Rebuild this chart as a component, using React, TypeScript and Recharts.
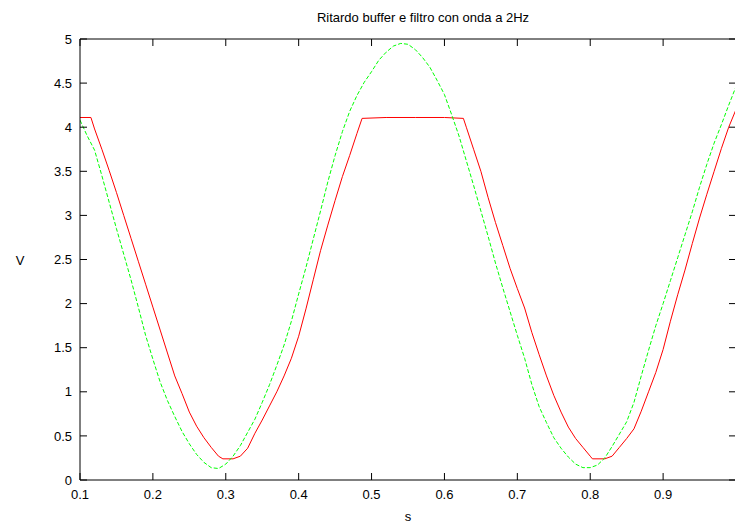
import React from "react";
import { LineChart, Line, XAxis, YAxis } from "recharts";

const greenT = [
  0.10, 0.11, 0.12, 0.13, 0.14, 0.15, 0.16, 0.17, 0.18, 0.19,
  0.20, 0.21, 0.22, 0.23, 0.24, 0.25, 0.26, 0.27, 0.28, 0.29,
  0.30, 0.31, 0.32, 0.33, 0.34, 0.35, 0.36, 0.37, 0.38, 0.39,
  0.40, 0.41, 0.42, 0.43, 0.44, 0.45, 0.46, 0.47, 0.48, 0.49,
  0.50, 0.51, 0.52, 0.53, 0.54, 0.55, 0.56, 0.57, 0.58, 0.59,
  0.60, 0.61, 0.62, 0.63, 0.64, 0.65, 0.66, 0.67, 0.68, 0.69,
  0.70, 0.71, 0.72, 0.73, 0.74, 0.75, 0.76, 0.77, 0.78, 0.79,
  0.80, 0.81, 0.82, 0.83, 0.84, 0.85, 0.86, 0.87, 0.88, 0.89,
  0.90, 0.91, 0.92, 0.93, 0.94, 0.95, 0.96, 0.97, 0.98, 0.99, 1.00,
];
const greenV = [
  4.08, 3.90, 3.74, 3.45, 3.15, 2.85, 2.56, 2.27, 1.96, 1.64,
  1.37, 1.11, 0.90, 0.72, 0.55, 0.41, 0.29, 0.20, 0.14, 0.13,
  0.18, 0.27, 0.39, 0.54, 0.69, 0.88, 1.08, 1.30, 1.53, 1.80,
  2.11, 2.41, 2.73, 3.05, 3.38, 3.68, 3.95, 4.18, 4.36, 4.51,
  4.63, 4.76, 4.85, 4.92, 4.95, 4.94, 4.88, 4.79, 4.68, 4.53,
  4.37, 4.14, 3.90, 3.62, 3.34, 3.05, 2.76, 2.46, 2.18, 1.91,
  1.64, 1.38, 1.08, 0.83, 0.65, 0.48, 0.36, 0.26, 0.18, 0.14,
  0.14, 0.17, 0.25, 0.38, 0.52, 0.66, 0.88, 1.18, 1.47, 1.75,
  2.00, 2.26, 2.52, 2.78, 3.04, 3.32, 3.58, 3.82, 4.03, 4.25, 4.46,
];

const redT = [
  0.10, 0.115, 0.12, 0.13, 0.14, 0.15, 0.16, 0.17, 0.18, 0.19,
  0.20, 0.21, 0.22, 0.23, 0.24, 0.25, 0.26, 0.27, 0.28, 0.29,
  0.296, 0.31, 0.32, 0.33, 0.34, 0.35, 0.36, 0.37, 0.38, 0.39,
  0.40, 0.41, 0.42, 0.43, 0.44, 0.45, 0.46, 0.47, 0.48, 0.487,
  0.52, 0.56, 0.60, 0.626, 0.63, 0.64, 0.65, 0.66, 0.67, 0.68,
  0.69, 0.70, 0.71, 0.72, 0.73, 0.74, 0.75, 0.76, 0.77, 0.78,
  0.79, 0.80, 0.803, 0.82, 0.83, 0.84, 0.85, 0.86, 0.87, 0.88,
  0.89, 0.90, 0.91, 0.92, 0.93, 0.94, 0.95, 0.96, 0.97, 0.98,
  0.99, 1.00,
];
const redV = [
  4.11, 4.11, 3.98, 3.75, 3.51, 3.26, 3.00, 2.74, 2.48, 2.22,
  1.96, 1.70, 1.44, 1.18, 0.98, 0.77, 0.61, 0.48, 0.37, 0.27,
  0.24, 0.24, 0.27, 0.36, 0.53, 0.68, 0.84, 1.00, 1.18, 1.38,
  1.63, 1.94, 2.27, 2.60, 2.89, 3.17, 3.44, 3.68, 3.93, 4.10,
  4.11, 4.11, 4.11, 4.10, 4.00, 3.75, 3.50, 3.20, 2.92, 2.66,
  2.40, 2.17, 1.95, 1.67, 1.42, 1.18, 0.96, 0.77, 0.60, 0.47,
  0.37, 0.27, 0.24, 0.24, 0.27, 0.37, 0.47, 0.58, 0.78, 1.00,
  1.22, 1.48, 1.80, 2.10, 2.38, 2.68, 2.97, 3.24, 3.50, 3.76,
  4.00, 4.20,
];

const xTicks = [0.1, 0.2, 0.3, 0.4, 0.5, 0.6, 0.7, 0.8, 0.9];
const yTicks = [0, 0.5, 1, 1.5, 2, 2.5, 3, 3.5, 4, 4.5, 5];
const xTickLabels = ["0.1", "0.2", "0.3", "0.4", "0.5", "0.6", "0.7", "0.8", "0.9"];
const yTickLabels = ["0", "0.5", "1", "1.5", "2", "2.5", "3", "3.5", "4", "4.5", "5"];

const title = "Ritardo buffer e filtro con onda a 2Hz";
const xLabel = "s";
const yLabel = "V";

const greenData = greenT.map((t, i) => ({ t, v: greenV[i] }));
const redData = redT.map((t, i) => ({ t, v: redV[i] }));

const FONT = "'Liberation Sans', Arial, Helvetica, sans-serif";
const TICK_LEN = 7;

const BottomTick = (props: any) => {
  const { x, y, payload } = props;
  const idx = xTicks.indexOf(payload.value);
  return (
    <g>
      <line x1={x} y1={y} x2={x} y2={y - TICK_LEN} stroke="#000" strokeWidth={1} />
      <text x={x} y={y + 19} textAnchor="middle" fontSize={13} fontFamily={FONT} fill="#000">
        {idx >= 0 ? xTickLabels[idx] : String(payload.value)}
      </text>
    </g>
  );
};

const TopTick = (props: any) => {
  const { x, y } = props;
  return <line x1={x} y1={y} x2={x} y2={y + TICK_LEN} stroke="#000" strokeWidth={1} />;
};

const LeftTick = (props: any) => {
  const { x, y, payload } = props;
  const idx = yTicks.indexOf(payload.value);
  return (
    <g>
      <line x1={x} y1={y} x2={x + TICK_LEN} y2={y} stroke="#000" strokeWidth={1} />
      <text x={x - 8} y={y + 4.6} textAnchor="end" fontSize={13} fontFamily={FONT} fill="#000">
        {idx >= 0 ? yTickLabels[idx] : String(payload.value)}
      </text>
    </g>
  );
};

const RightTick = (props: any) => {
  const { x, y } = props;
  return <line x1={x} y1={y} x2={x - TICK_LEN} y2={y} stroke="#000" strokeWidth={1} />;
};

export default function App() {
  return (
    <div
      style={{
        position: "fixed",
        left: 0,
        top: 0,
        width: 735,
        height: 523,
        overflow: "hidden",
        background: "#fff",
      }}
    >
      <LineChart
        width={760}
        height={523}
        margin={{ top: 38, right: 23, bottom: 42, left: 79 }}
        style={{ position: "absolute", left: 0, top: 0 }}
      >
        <XAxis
          xAxisId="b"
          dataKey="t"
          type="number"
          domain={[0.1, 1.0]}
          allowDataOverflow
          ticks={xTicks}
          height={1}
          tickSize={0}
          tickMargin={0}
          tickLine={false}
          axisLine={{ stroke: "#000", strokeWidth: 1 }}
          tick={<BottomTick />}
          interval={0}
        />
        <XAxis
          xAxisId="t"
          orientation="top"
          dataKey="t"
          type="number"
          domain={[0.1, 1.0]}
          allowDataOverflow
          ticks={xTicks}
          height={1}
          tickSize={0}
          tickMargin={0}
          tickLine={false}
          axisLine={{ stroke: "#000", strokeWidth: 1 }}
          tick={<TopTick />}
          interval={0}
        />
        <YAxis
          yAxisId="l"
          type="number"
          domain={[0, 5]}
          allowDataOverflow
          ticks={yTicks}
          width={1}
          tickSize={0}
          tickMargin={0}
          tickLine={false}
          axisLine={{ stroke: "#000", strokeWidth: 1 }}
          tick={<LeftTick />}
          interval={0}
        />
        <YAxis
          yAxisId="r"
          orientation="right"
          type="number"
          domain={[0, 5]}
          allowDataOverflow
          ticks={yTicks}
          width={1}
          tickSize={0}
          tickMargin={0}
          tickLine={false}
          axisLine={{ stroke: "#000", strokeWidth: 1 }}
          tick={<RightTick />}
          interval={0}
        />
        <Line
          xAxisId="b"
          yAxisId="l"
          data={redData}
          dataKey="v"
          type="linear"
          stroke="#ff0000"
          strokeWidth={1}
          dot={false}
          activeDot={false}
          isAnimationActive={false}
        />
        <Line
          xAxisId="b"
          yAxisId="l"
          data={greenData}
          dataKey="v"
          type="linear"
          stroke="#00ff00"
          strokeWidth={1}
          strokeDasharray="4 2"
          dot={false}
          activeDot={false}
          isAnimationActive={false}
        />
      </LineChart>
      <svg
        width={735}
        height={523}
        style={{ position: "absolute", left: 0, top: 0, pointerEvents: "none" }}
      >
        <text x={423} y={21.5} textAnchor="middle" fontSize={13} fontFamily={FONT} fill="#000">
          {title}
        </text>
        <text x={20} y={265} textAnchor="middle" fontSize={13} fontFamily={FONT} fill="#000">
          {yLabel}
        </text>
        <text x={408} y={521} textAnchor="middle" fontSize={13} fontFamily={FONT} fill="#000">
          {xLabel}
        </text>
      </svg>
    </div>
  );
}
